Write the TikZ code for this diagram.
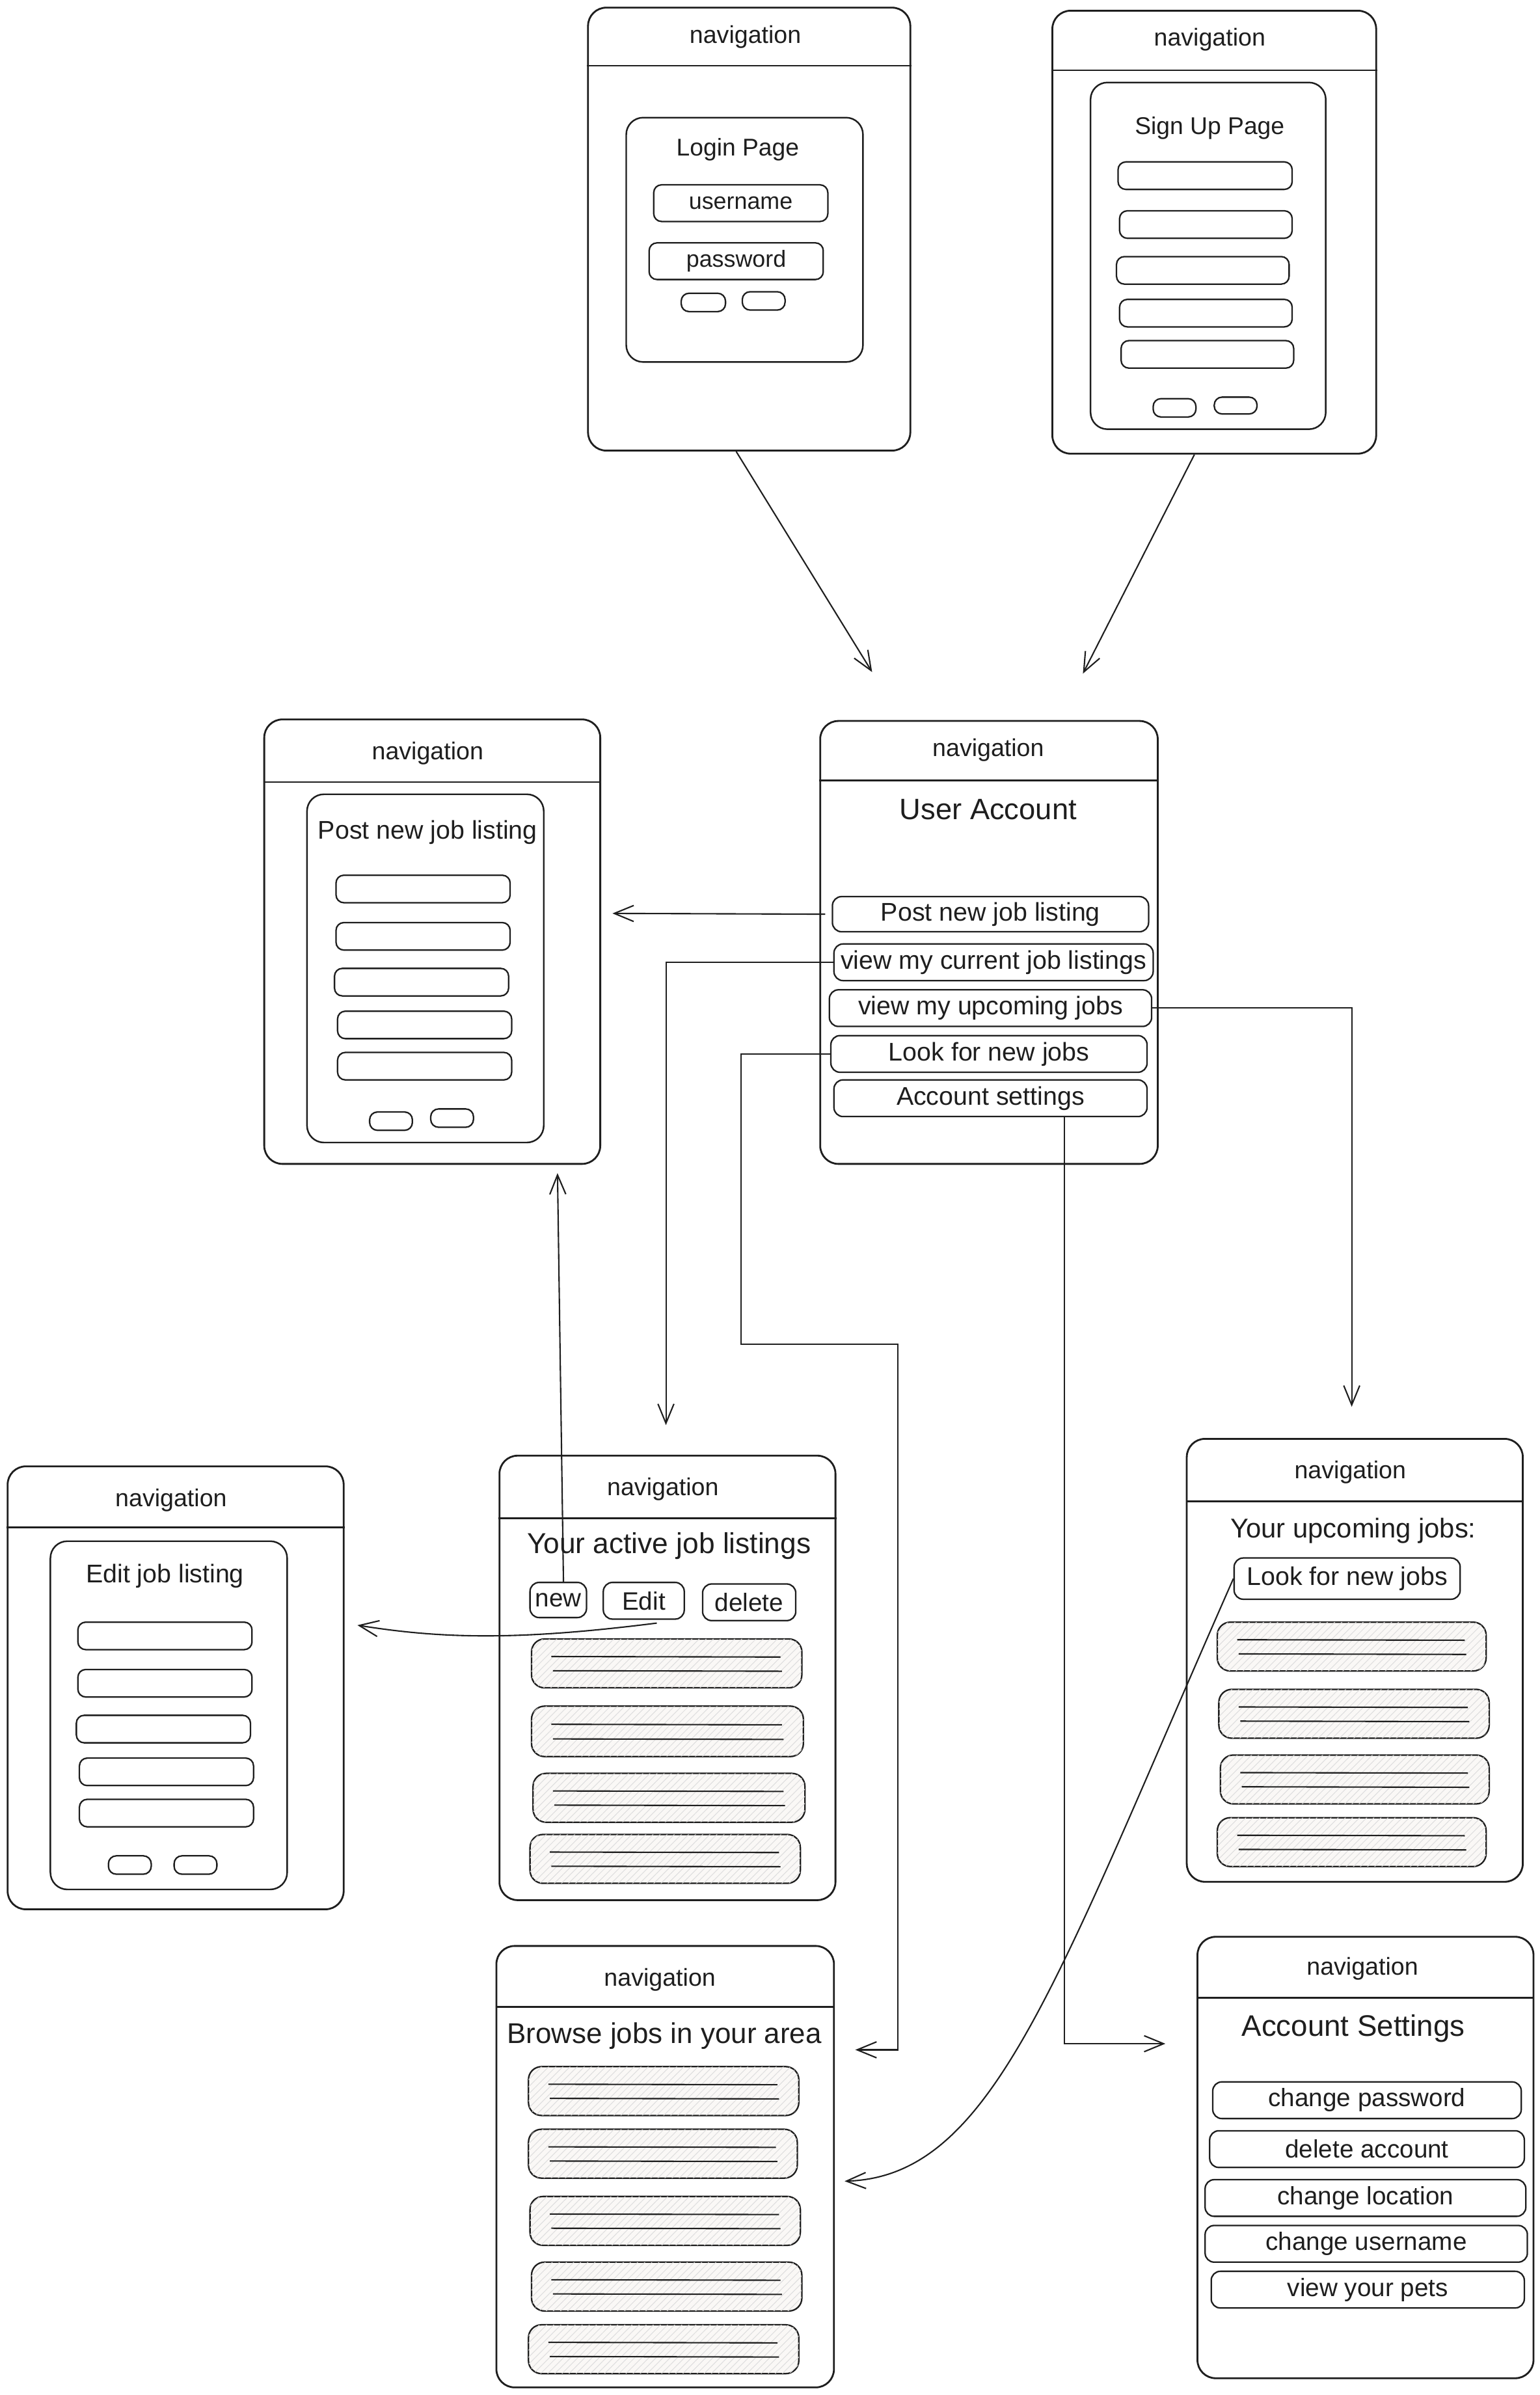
\documentclass[tikz,border=0pt]{standalone}
\usepackage{fontspec}
\setmainfont{Liberation Sans}
\usetikzlibrary{arrows.meta,fit,patterns.meta}

\definecolor{ink}{HTML}{1E1E1E}
\definecolor{cardfill}{HTML}{FAF8F6}
\newcommand\setfs[1]{\fontsize{#1pt}{#1pt}\selectfont}

\tikzset{
  screen/.style={draw=ink, line width=0.8pt, rounded corners=0.28cm, inner sep=0pt},
  panel/.style={draw=ink, line width=0.7pt, rounded corners=0.26cm, inner sep=0pt},
  field/.style={draw=ink, line width=0.65pt, rounded corners=0.12cm, inner sep=0pt},
  btn/.style={draw=ink, line width=0.65pt, rounded corners=0.14cm, inner sep=0pt},
  lbl/.style={inner sep=0pt, text=ink, font=\setfs{11.2}},
  card/.style={draw=ink, line width=0.65pt, rounded corners=0.2cm, inner sep=0pt, fill=cardfill,
    postaction={pattern={Lines[angle=45,distance=2.2pt,line width=0.3pt]}, pattern color=black!13}},
  cardline/.style={draw=ink, line width=0.6pt},
  divider/.style={draw=ink, line width=0.75pt},
  navtext/.style={inner sep=0pt, text=ink, font=\setfs{10.7}},
  title/.style={inner sep=0pt, text=ink},
  conn/.style={draw=ink, line width=0.6pt, -{Straight Barb[length=8.5pt,width=7pt]}},
}

% a listing card with two text placeholder lines
\newcommand\jobcard[5]{%
  \node[card, fit={(#2,#3) (#4,#5)}] (#1) {};
  \draw[cardline] ({#2+13},{#3+0.36*(#5-#3)}) -- ({#4-14},{#3+0.37*(#5-#3)});
  \draw[cardline] ({#2+14},{#3+0.65*(#5-#3)}) -- ({#4-13},{#3+0.66*(#5-#3)});
}

\begin{document}
\begin{tikzpicture}[x=0.02348cm, y=-0.02348cm]
\fill[white] (0,0) rectangle (1008,1568);
\useasboundingbox (0,0) rectangle (1008,1568);

% ---------- Login page ----------
\node[screen, fit={(385,5) (596,295)}] (login) {};
\draw[divider] (login.west |- 0,43) -- (login.east |- 0,43);
\node[navtext] (login-nav) at (488,24) {navigation};
\node[panel, fit={(410,77) (565,237)}] (login-panel) {};
\node[title, font=\setfs{10.6}] (login-title) at (483,98) {Login Page};
\node[field, fit={(428,121) (542,145)}] (login-user) {};
\node[lbl, font=\setfs{10.2}] (login-user-t) at (login-user.center) {username};
\node[field, fit={(425,159) (539,183)}] (login-pass) {};
\node[lbl, font=\setfs{10.2}] (login-pass-t) at (login-pass.center) {password};
\node[field, fit={(446,192) (475,204)}] (login-b1) {};
\node[field, fit={(486,191) (514,203)}] (login-b2) {};

% ---------- Sign up page ----------
\node[screen, fit={(689,7) (901,297)}] (signup) {};
\draw[divider] (signup.west |- 0,46) -- (signup.east |- 0,46);
\node[navtext] (signup-nav) at (792,26) {navigation};
\node[panel, fit={(714,54) (868,281)}] (signup-panel) {};
\node[title, font=\setfs{10.6}] (signup-title) at (792,84) {Sign Up Page};
\node[field, fit={(732,106) (846,124)}] (signup-f1) {};
\node[field, fit={(733,138) (846,156)}] (signup-f2) {};
\node[field, fit={(731,168) (844,186)}] (signup-f3) {};
\node[field, fit={(733,196) (846,214)}] (signup-f4) {};
\node[field, fit={(734,223) (847,241)}] (signup-f5) {};
\node[field, fit={(755,261) (783,273)}] (signup-b1) {};
\node[field, fit={(795,260) (823,271)}] (signup-b2) {};

% ---------- Post new job listing ----------
\node[screen, fit={(173,471) (393,762)}] (post) {};
\draw[divider] (post.west |- 0,512) -- (post.east |- 0,512);
\node[navtext] (post-nav) at (280,493) {navigation};
\node[panel, fit={(201,520) (356,748)}] (post-panel) {};
\node[title, font=\setfs{11.2}] (post-title) at (280,545) {Post new job listing};
\node[field, fit={(220,573) (334,591)}] (post-f1) {};
\node[field, fit={(220,604) (334,622)}] (post-f2) {};
\node[field, fit={(219,634) (333,652)}] (post-f3) {};
\node[field, fit={(221,662) (335,680)}] (post-f4) {};
\node[field, fit={(221,689) (335,707)}] (post-f5) {};
\node[field, fit={(242,728) (270,740)}] (post-b1) {};
\node[field, fit={(282,726) (310,738)}] (post-b2) {};

% ---------- User account ----------
\node[screen, fit={(537,472) (758,762)}] (ua) {};
\draw[divider] (ua.west |- 0,511) -- (ua.east |- 0,511);
\node[navtext] (ua-nav) at (647,491) {navigation};
\node[title, font=\setfs{12.9}] (ua-title) at (647,530) {User Account};
\node[btn, fit={(545,587) (752,610)}] (post-btn) {};
\node[lbl] (post-btn-t) at (post-btn.center) {Post new job listing};
\node[btn, fit={(546,618) (755,642)}] (cur-btn) {};
\node[lbl] (cur-btn-t) at (cur-btn.center) {view my current job listings};
\node[btn, fit={(543,648) (754,672)}] (upc-btn) {};
\node[lbl] (upc-btn-t) at (upc-btn.center) {view my upcoming jobs};
\node[btn, fit={(544,678) (751,702)}] (look-btn) {};
\node[lbl] (look-btn-t) at (look-btn.center) {Look for new jobs};
\node[btn, fit={(546,707) (751,731)}] (acct-btn) {};
\node[lbl] (acct-btn-t) at (acct-btn.center) {Account settings};

% ---------- Edit job listing ----------
\node[screen, fit={(5,960) (225,1250)}] (edit) {};
\draw[divider] (edit.west |- 0,1000) -- (edit.east |- 0,1000);
\node[navtext] (edit-nav) at (112,982) {navigation};
\node[panel, fit={(33,1009) (188,1237)}] (edit-panel) {};
\node[title, font=\setfs{11.2}] (edit-title) at (108,1032) {Edit job listing};
\node[field, fit={(51,1062) (165,1080)}] (edit-f1) {};
\node[field, fit={(51,1093) (165,1111)}] (edit-f2) {};
\node[field, fit={(50,1123) (164,1141)}] (edit-f3) {};
\node[field, fit={(52,1151) (166,1169)}] (edit-f4) {};
\node[field, fit={(52,1178) (166,1196)}] (edit-f5) {};
\node[field, fit={(71,1215) (99,1227)}] (edit-b1) {};
\node[field, fit={(114,1215) (142,1227)}] (edit-b2) {};

% ---------- Active job listings ----------
\node[screen, fit={(327,953) (547,1244)}] (active) {};
\draw[divider] (active.west |- 0,994) -- (active.east |- 0,994);
\node[navtext] (active-nav) at (434,975) {navigation};
\node[title, font=\setfs{12.6}] (active-title) at (438,1012) {Your active job listings};
\node[btn, fit={(347,1036) (384,1059)}] (new-btn) {};
\node[lbl, font=\setfs{11}] (new-btn-t) at (new-btn.center) {new};
\node[btn, fit={(395,1036) (448,1060)}] (edit-btn) {};
\node[lbl, font=\setfs{11}] (edit-btn-t) at (edit-btn.center) {Edit};
\node[btn, fit={(460,1037) (521,1061)}] (del-btn) {};
\node[lbl, font=\setfs{11}] (del-btn-t) at (del-btn.center) {delete};
\jobcard{active-c1}{348}{1073}{525}{1105}
\jobcard{active-c2}{348}{1117}{526}{1150}
\jobcard{active-c3}{349}{1161}{527}{1193}
\jobcard{active-c4}{347}{1201}{524}{1233}

% ---------- Upcoming jobs ----------
\node[screen, fit={(777,942) (997,1232)}] (upcoming) {};
\draw[divider] (upcoming.west |- 0,983) -- (upcoming.east |- 0,983);
\node[navtext] (upcoming-nav) at (884,964) {navigation};
\node[title, font=\setfs{11.9}] (upcoming-title) at (886,1002) {Your upcoming jobs:};
\node[btn, fit={(808,1020) (956,1047)}] (up-look) {};
\node[lbl] (up-look-t) at (up-look.center) {Look for new jobs};
\jobcard{up-c1}{797}{1062}{973}{1094}
\jobcard{up-c2}{798}{1106}{975}{1138}
\jobcard{up-c3}{799}{1149}{975}{1181}
\jobcard{up-c4}{797}{1190}{973}{1222}

% ---------- Browse jobs ----------
\node[screen, fit={(325,1274) (546,1563)}] (browse) {};
\draw[divider] (browse.west |- 0,1314) -- (browse.east |- 0,1314);
\node[navtext] (browse-nav) at (432,1296) {navigation};
\node[title, font=\setfs{12.5}] (browse-title) at (435,1333) {Browse jobs in your area};
\jobcard{br-c1}{346}{1353}{523}{1385}
\jobcard{br-c2}{346}{1394}{522}{1426}
\jobcard{br-c3}{347}{1438}{524}{1470}
\jobcard{br-c4}{348}{1481}{525}{1513}
\jobcard{br-c5}{346}{1522}{523}{1554}

% ---------- Account settings ----------
\node[screen, fit={(784,1268) (1004,1557)}] (settings) {};
\draw[divider] (settings.west |- 0,1308) -- (settings.east |- 0,1308);
\node[navtext] (settings-nav) at (892,1289) {navigation};
\node[title, font=\setfs{13}] (settings-title) at (886,1328) {Account Settings};
\node[btn, fit={(794,1363) (996,1387)}] (set-pass) {};
\node[lbl, font=\setfs{11}] (set-pass-t) at (set-pass.center) {change password};
\node[btn, fit={(792,1395) (998,1419)}] (set-del) {};
\node[lbl, font=\setfs{11}] (set-del-t) at (set-del.center) {delete account};
\node[btn, fit={(789,1427) (999,1451)}] (set-loc) {};
\node[lbl, font=\setfs{11}] (set-loc-t) at (set-loc.center) {change location};
\node[btn, fit={(789,1457) (1000,1481)}] (set-user) {};
\node[lbl, font=\setfs{11}] (set-user-t) at (set-user.center) {change username};
\node[btn, fit={(793,1487) (998,1511)}] (set-pets) {};
\node[lbl, font=\setfs{11}] (set-pets-t) at (set-pets.center) {view your pets};

% ---------- arrow targets ----------
\coordinate (ua-in1) at (571,440);
\coordinate (ua-in2) at (709,441);
\coordinate (post-in1) at (401,598);
\coordinate (post-in2) at (365,768);
\coordinate (active-in) at (436,933);
\coordinate (upcoming-in) at (885,921);
\coordinate (browse-in1) at (560,1342);
\coordinate (browse-in2) at (553,1428);
\coordinate (settings-in) at (763,1338);
\coordinate (edit-in) at (234,1064);

% ---------- connectors ----------
\draw[conn] (482,0 |- login.south) -- (ua-in1);
\draw[conn] (782,0 |- signup.south) -- (ua-in2);
\draw[conn] ([xshift=-0.1cm]post-btn.west) -- (post-in1);
\draw[conn] (cur-btn.west) -| (active-in);
\draw[conn] (upc-btn.east) -| (upcoming-in);
\draw[conn] (look-btn.west) -| (485,880) -| (588,1342) -- (browse-in1);
\draw[conn] (acct-btn.south -| 697,0) |- (settings-in);
\draw[conn] ([xshift=0.08cm]new-btn.north) -- (post-in2);
\draw[conn] ([xshift=0.2cm,yshift=-0.05cm]edit-btn.south) .. controls (340,1074) and (290,1073) .. (edit-in);
\draw[conn] (up-look.west) .. controls (690,1300) and (650,1425) .. (browse-in2);
\end{tikzpicture}
\end{document}
